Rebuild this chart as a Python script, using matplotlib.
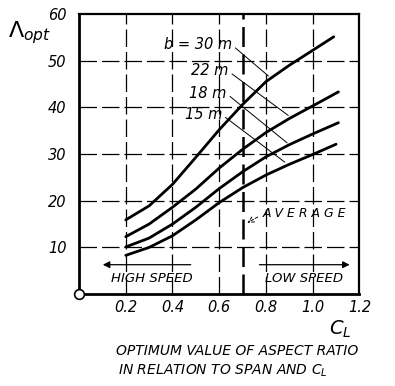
import matplotlib
matplotlib.use("Agg")
import matplotlib.pyplot as plt

# ---- data ----
cl_points = [0.2, 0.3, 0.4, 0.5, 0.6, 0.7, 0.8, 0.9, 1.0]
span_30 = [15.9, 18.9, 23.5, 29.3, 35.2, 40.6, 45.5, 49.0, 52.2]
span_22 = [12.3, 15.0, 18.6, 22.5, 27.0, 31.0, 34.6, 37.6, 40.3]
span_18 = [10.1, 12.0, 15.0, 18.6, 22.6, 26.2, 29.4, 32.0, 34.3]
span_15 = [8.3, 10.0, 12.5, 15.9, 19.6, 22.8, 25.5, 27.8, 29.9]
end_cl = [1.09, 1.11, 1.11, 1.10]
end_val = [55.1, 43.3, 36.7, 32.1]
span_labels = ["b = 30 m", "22 m", "18 m", "15 m"]
label_pos = [(0.655, 53.4), (0.64, 47.8), (0.632, 43.0), (0.612, 38.5)]
leader_to = [(0.82, 46.3), (0.905, 37.9), (0.90, 32.0), (0.89, 27.9)]
average_cl = 0.7
x_ticks = [0.2, 0.4, 0.6, 0.8, 1.0, 1.2]
x_tick_labels = ["0.2", "0.4", "0.6", "0.8", "1.0", "1.2"]
y_ticks = [10, 20, 30, 40, 50, 60]

fig = plt.figure(figsize=(3.95, 3.86), dpi=100)
ax = fig.add_axes([0.2, 0.238, 0.71, 0.726])
ax.set_xlim(0, 1.2)
ax.set_ylim(0, 60)

# grid
for gx in x_ticks[:-1]:
    ax.axvline(gx, color="black", lw=0.9, ls=(0, (14, 4)), zorder=1)
for gy in y_ticks[:-1]:
    ax.axhline(gy, color="black", lw=0.9, ls=(0, (14, 4)), zorder=1)

# average line
ax.axvline(average_cl, color="black", lw=1.8, ls=(0, (8, 3)), zorder=2)

# curves
series = [span_30, span_22, span_18, span_15]
for vals, ex, ev in zip(series, end_cl, end_val):
    ax.plot(cl_points + [ex], vals + [ev], color="black", lw=2.0,
            solid_capstyle="round", solid_joinstyle="round", zorder=3)

# span labels with leader lines
for lab, (tx, ty), (lx, ly) in zip(span_labels, label_pos, leader_to):
    ax.text(tx, ty, lab, ha="right", va="center", fontsize=10.5,
            style="italic", family="DejaVu Sans")
    ax.annotate("", xy=(lx, ly), xytext=(tx + 0.005, ty - 0.3),
                arrowprops=dict(arrowstyle="-", color="black", lw=0.7))

# AVERAGE label
ax.text(0.785, 17.2, "A V E R A G E", ha="left", va="center", fontsize=9,
        style="italic", family="DejaVu Sans")
ax.annotate("", xy=(average_cl + 0.01, 15.0), xytext=(0.775, 16.8),
            arrowprops=dict(arrowstyle="->", color="black", lw=0.7,
                            ls=(0, (3, 2))))

# speed arrows
ax.annotate("", xy=(0.09, 6.3), xytext=(0.49, 6.3),
            arrowprops=dict(arrowstyle="-|>", color="black", lw=0.9,
                            mutation_scale=10))
ax.annotate("", xy=(1.17, 6.3), xytext=(0.76, 6.3),
            arrowprops=dict(arrowstyle="-|>", color="black", lw=0.9,
                            mutation_scale=10))
ax.text(0.31, 3.3, "HIGH SPEED", ha="center", va="center", fontsize=9.5,
        style="italic", family="DejaVu Sans")
ax.text(0.965, 3.3, "LOW SPEED", ha="center", va="center", fontsize=9.5,
        style="italic", family="DejaVu Sans")

# spines
for side in ["left", "bottom"]:
    ax.spines[side].set_linewidth(2.0)
for side in ["top", "right"]:
    ax.spines[side].set_linewidth(1.6)

ax.set_xticks(x_ticks)
ax.set_xticklabels(x_tick_labels)
ax.set_yticks(y_ticks)
ax.tick_params(axis="x", length=0, labelsize=10.5, pad=4)
ax.tick_params(axis="y", length=0, labelsize=10.5, pad=9)
for t in ax.get_xticklabels() + ax.get_yticklabels():
    t.set_style("italic")

# origin circle
ax.plot([0], [0], marker="o", ms=7, mfc="white", mec="black", mew=1.2,
        clip_on=False, zorder=5)

# axis labels
fig.text(0.02, 0.915, r"$\Lambda_{opt}$", fontsize=16, ha="left", va="center")
fig.text(0.86, 0.147, r"$C_L$", fontsize=14, ha="center", va="center")

# caption
fig.text(0.6, 0.09, "OPTIMUM VALUE OF ASPECT RATIO", ha="center",
         va="center", fontsize=10, style="italic", family="DejaVu Sans")
fig.text(0.565, 0.04, r"IN RELATION TO SPAN AND $C_L$", ha="center",
         va="center", fontsize=10, style="italic", family="DejaVu Sans")

fig.savefig("out.png", dpi=100)
